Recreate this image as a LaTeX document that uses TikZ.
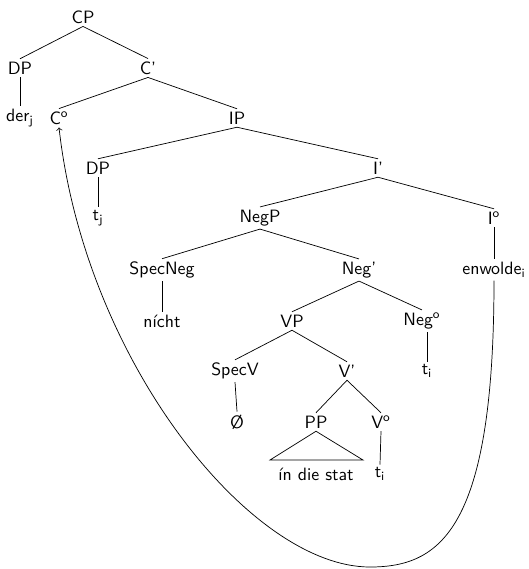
\documentclass[tikz,border=0pt]{standalone}
\usepackage{tikz}
\usetikzlibrary{arrows}

\begin{document}
\begin{tikzpicture}[x=0.56pt,y=-0.56pt,every node/.style={font=\sffamily,inner sep=1.5pt}]
  \useasboundingbox (0,0) rectangle (529,569);

  \draw (83,17)   node (cp)   {CP};

  \draw (20,68)   node (dp1)  {DP};
  \draw (148,68)  node (cbar) {C'};
  \draw (cp.south) -- (dp1.north);
  \draw (cp.south) -- (cbar.north);

  \draw (20,118)  node (der)  {der\textsubscript{j}};
  \draw (59,118)  node (c0)   {C\textsuperscript{o}};
  \draw (237,118) node (ip)   {IP};
  \draw (dp1.south) -- (der.north);
  \draw (cbar.south) -- (c0.north);
  \draw (cbar.south) -- (ip.north);

  \draw (98,168)  node (dp2)  {DP};
  \draw (378,168) node (ibar) {I'};
  \draw (ip.south) -- (dp2.north);
  \draw (ip.south) -- (ibar.north);

  \draw (98,218)  node (tj)   {t\textsubscript{j}};
  \draw (260,218) node (negp) {NegP};
  \draw (494,218) node (i0)   {I\textsuperscript{o}};
  \draw (dp2.south) -- (tj.north);
  \draw (ibar.south) -- (negp.north);
  \draw (ibar.south) -- (i0.north);

  \draw (162,270) node (specneg) {SpecNeg};
  \draw (359,270) node (negbar)  {Neg'};
  \draw (494,270) node (verb)    {enwolde\textsubscript{i}};
  \draw (negp.south) -- (specneg.north);
  \draw (negp.south) -- (negbar.north);
  \draw (i0.south) -- (verb.north);

  \draw (162,321) node (nicht) {n\'{\i}cht};
  \draw (292,321) node (vp)    {VP};
  \draw (422,321) node (neg0)  {Neg\textsuperscript{o}};
  \draw (specneg.south) -- (nicht.north);
  \draw (negbar.south) -- (vp.north);
  \draw (negbar.south) -- (neg0.north);

  \draw (235,371) node (specv) {SpecV};
  \draw (347,371) node (vbar)  {V'};
  \draw (427,371) node (ti1)   {t\textsubscript{i}};
  \draw (vp.south) -- (specv.north);
  \draw (vp.south) -- (vbar.north);
  \draw (ti1.north) -- (ti1.north |- neg0.south);

  \draw (237,422) node (empty) {\O};
  \draw (316,422) node (pp)    {PP};
  \draw (381,422) node (v0)    {V\textsuperscript{o}};
  \draw (specv.south) -- (empty.north);
  \draw (vbar.south) -- (pp.north);
  \draw (vbar.south) -- (v0.north);

  \draw (316,474) node (stat)  {\'{\i}n die stat};
  \draw (380,474) node (ti2)   {t\textsubscript{i}};
  \coordinate (rl) at (270,460);
  \coordinate (rr) at (363,460);
  \draw (pp.south) -- (rl) -- (rr) -- cycle;
  \draw (v0.south) -- (ti2.north);

  % movement of the verb
  \coordinate (bot) at (370,567);
  \draw[->] (verb.south) .. controls (494,530) and (440,567) .. (bot)
            .. controls (250,567) and (85,360) .. (c0.south);
\end{tikzpicture}
\end{document}
